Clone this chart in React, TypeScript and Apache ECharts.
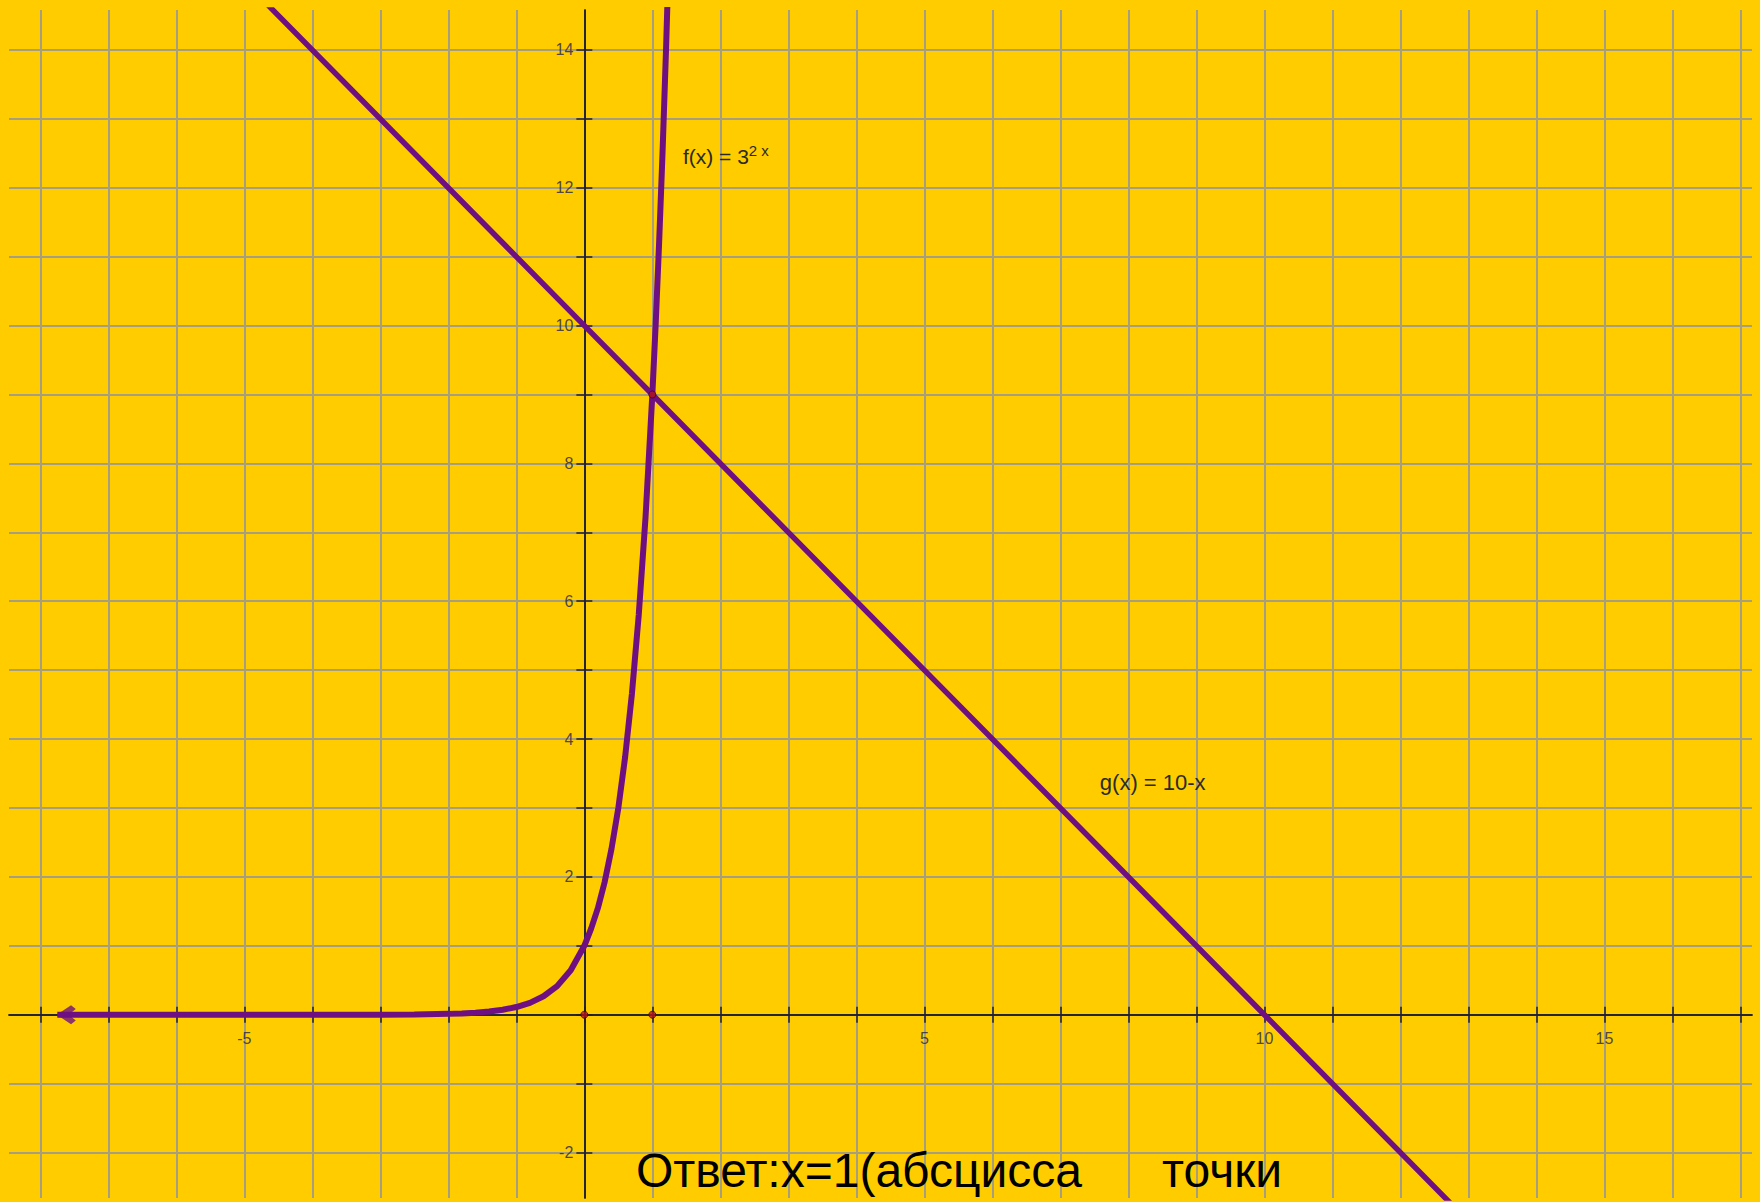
import React, { useEffect, useRef } from 'react';
import * as echarts from 'echarts';

// f(x) = 3^(2x)
const fCurveX = [-7.75, -4, -3, -2.5, -2, -1.8, -1.6, -1.4, -1.2, -1, -0.8, -0.6, -0.4, -0.2, 0, 0.1, 0.2, 0.3, 0.4, 0.5, 0.6, 0.7, 0.8, 0.9, 1, 1.05, 1.1, 1.15, 1.2, 1.25, 1.3];
const fCurveY = [0, 0, 0, 0.004, 0.012, 0.019, 0.03, 0.046, 0.072, 0.111, 0.172, 0.268, 0.415, 0.644, 1, 1.25, 1.55, 1.93, 2.41, 3, 3.74, 4.66, 5.8, 7.22, 9, 10.04, 11.21, 12.51, 13.97, 15.59, 17.4];

// g(x) = 10 - x
const gLineX = [-5, 0, 1, 5, 10, 13];
const gLineY = [15, 10, 9, 5, 0, -3];

// marked points (red dots)
const markedX = [0, 1, 1];
const markedY = [0, 0, 9];

// tick labels
const xTickLabels = [-5, 5, 10, 15];
const yTickLabels = [-2, 2, 4, 6, 8, 10, 12, 14];

// visible window
const X_MIN = -8.46;
const X_MAX = 17.17;
const Y_MIN = -2.66;
const Y_MAX = 14.58;

// annotation anchors (data coords)
const fLabelPos = [1.45, 12.46];
const gLabelPos = [7.58, 3.37];

const FONT = '"Liberation Sans", Arial, sans-serif';
const BG = '#ffcc00';
const GRID_COLOR = '#a59f80';
const AXIS_COLOR = '#1e1e3c';
const CURVE_COLOR = '#6e0f82';
const LABEL_COLOR = '#24244a';
const TEXT_COLOR = '#2a2a2a';

const zip = (xs: number[], ys: number[]) => xs.map((x, i) => [x, ys[i]]);

const integerTicks = (lo: number, hi: number) => {
  const out: number[] = [];
  for (let v = Math.ceil(lo); v <= Math.floor(hi); v++) out.push(v);
  return out;
};

export default function App() {
  const ref = useRef<HTMLDivElement>(null);

  useEffect(() => {
    if (!ref.current) return;
    const chart = echarts.init(ref.current, undefined, { renderer: 'svg' });

    const tickStyle = { color: AXIS_COLOR, width: 1.5 };
    const xTicks = integerTicks(X_MIN, X_MAX);
    const yTicks = integerTicks(Y_MIN, Y_MAX);

    const xBase = {
      type: 'value',
      min: X_MIN,
      max: X_MAX,
      minInterval: 1,
      maxInterval: 1,
      splitNumber: 26,
      axisLabel: { show: false },
    };
    const yBase = {
      type: 'value',
      min: Y_MIN,
      max: Y_MAX,
      minInterval: 1,
      maxInterval: 1,
      splitNumber: 17,
      axisLabel: { show: false },
    };

    const option: any = {
      animation: false,
      backgroundColor: BG,
      grid: { left: 9, top: 10, right: 8, bottom: 4, containLabel: false, outerBoundsMode: 'none' },
      xAxis: [
        {
          ...xBase,
          position: 'bottom',
          axisLine: { onZero: true, onZeroAxisIndex: 0, lineStyle: tickStyle },
          axisTick: { show: true, length: 8, lineStyle: tickStyle, customValues: xTicks },
          splitLine: {
            show: true,
            lineStyle: { color: GRID_COLOR, width: 2 },
          },
        },
        {
          ...xBase,
          position: 'top',
          axisLine: { onZero: true, onZeroAxisIndex: 0, lineStyle: tickStyle },
          axisTick: { show: true, length: 8, lineStyle: tickStyle, customValues: xTicks },
          splitLine: { show: false },
        },
      ],
      yAxis: [
        {
          ...yBase,
          position: 'left',
          axisLine: { onZero: true, onZeroAxisIndex: 0, lineStyle: tickStyle },
          axisTick: { show: true, length: 8, lineStyle: tickStyle, customValues: yTicks },
          splitLine: {
            show: true,
            lineStyle: { color: GRID_COLOR, width: 2 },
          },
        },
        {
          ...yBase,
          position: 'right',
          axisLine: { onZero: true, onZeroAxisIndex: 0, lineStyle: tickStyle },
          axisTick: { show: true, length: 8, lineStyle: tickStyle, customValues: yTicks },
          splitLine: { show: false },
        },
      ],
      series: [
        {
          name: 'g',
          type: 'line',
          xAxisIndex: 0,
          yAxisIndex: 0,
          data: zip(gLineX, gLineY),
          symbol: 'none',
          clip: true,
          lineStyle: { color: CURVE_COLOR, width: 5.5 },
          z: 3,
          markPoint: {
            symbol: 'circle',
            symbolSize: 0,
            data: [
              {
                coord: gLabelPos,
                label: {
                  show: true,
                  position: 'right',
                  distance: 0,
                  formatter: 'g(x) = 10-x',
                  fontSize: 22,
                  color: TEXT_COLOR,
                  fontFamily: FONT,
                },
              },
            ],
          },
        },
        {
          name: 'f',
          type: 'line',
          xAxisIndex: 0,
          yAxisIndex: 0,
          data: zip(fCurveX, fCurveY),
          symbol: 'none',
          clip: true,
          lineStyle: { color: CURVE_COLOR, width: 6 },
          z: 4,
          markPoint: {
            symbol: 'circle',
            symbolSize: 0,
            data: [
              {
                coord: fLabelPos,
                label: {
                  show: true,
                  position: 'right',
                  distance: 0,
                  formatter: '{a|f(x) = 3}{b|2 x}',
                  rich: {
                    a: { fontSize: 21, lineHeight: 26, color: TEXT_COLOR, fontFamily: FONT },
                    b: { fontSize: 15, lineHeight: 16, color: TEXT_COLOR, fontFamily: FONT, verticalAlign: 'top' },
                  },
                },
              },
            ],
          },
        },
        {
          name: 'arrow',
          type: 'scatter',
          xAxisIndex: 0,
          yAxisIndex: 0,
          data: [[fCurveX[0], fCurveY[0]]],
          symbol: 'path://M0,10 L12,0 L16,4 L10,10 L16,16 L12,20 Z',
          symbolSize: [19, 19],
          symbolOffset: [9, 0],
          itemStyle: { color: CURVE_COLOR },
          z: 5,
        },
        {
          name: 'points',
          type: 'scatter',
          xAxisIndex: 0,
          yAxisIndex: 0,
          data: zip(markedX, markedY),
          symbol: 'circle',
          symbolSize: 7,
          itemStyle: { color: '#b3121a', borderColor: '#3a0a10', borderWidth: 1 },
          z: 6,
        },
        {
          name: 'xTickLabels',
          type: 'scatter',
          xAxisIndex: 0,
          yAxisIndex: 0,
          data: xTickLabels.map((v) => [v, 0]),
          symbol: 'circle',
          symbolSize: 0,
          silent: true,
          z: 7,
          label: {
            show: true,
            position: 'bottom',
            distance: 16,
            fontSize: 16,
            color: LABEL_COLOR,
            fontFamily: FONT,
            formatter: (p: any) => String(p.value[0]),
          },
        },
        {
          name: 'yTickLabels',
          type: 'scatter',
          xAxisIndex: 0,
          yAxisIndex: 0,
          data: yTickLabels.map((v) => [0, v]),
          symbol: 'circle',
          symbolSize: 0,
          silent: true,
          z: 7,
          label: {
            show: true,
            position: 'left',
            distance: 11,
            fontSize: 16,
            color: LABEL_COLOR,
            fontFamily: FONT,
            formatter: (p: any) => String(p.value[1]),
          },
        },
      ],
      graphic: [
        {
          type: 'text',
          x: 636,
          y: 1170,
          z: 100,
          style: {
            text: 'Ответ:x=1(абсцисса      точки',
            fontSize: 48,
            fontFamily: FONT,
            fill: '#000000',
            align: 'left',
            verticalAlign: 'middle',
          },
        },
      ],
    };

    chart.setOption(option);
    return () => chart.dispose();
  }, []);

  return (
    <div
      ref={ref}
      style={{ position: 'fixed', left: 0, top: 0, width: 1760, height: 1202, background: BG }}
    />
  );
}
